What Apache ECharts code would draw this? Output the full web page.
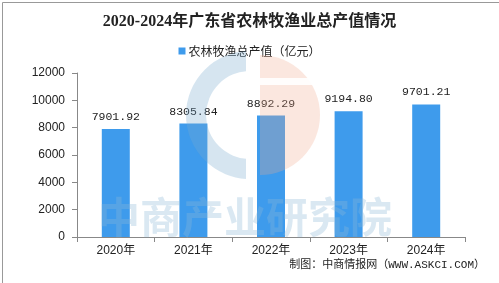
<!DOCTYPE html>
<html><head><meta charset="utf-8">
<script src="https://cdn.jsdelivr.net/npm/echarts@6/dist/echarts.min.js"></script>
<style>html,body{margin:0;padding:0;background:#fff}#c{width:499px;height:283px}</style>
</head><body><div id="c"></div>
<script>
const categories = ['2020年', '2021年', '2022年', '2023年', '2024年'];
const values = [7901.92, 8305.84, 8892.29, 9194.80, 9701.21];
const seriesName = '农林牧渔总产值（亿元）';
const titleText = '2020-2024年广东省农林牧渔业总产值情况';
const sourceText = '制图：中商情报网（WWW.ASKCI.COM）';
const watermarkText = '中商产业研究院';

const chart = echarts.init(document.getElementById('c'));
chart.setOption({
  animation: false,
  backgroundColor: '#fff',
  title: {
    text: titleText, left: 'center', top: 9,
    textStyle: { fontFamily: "'Liberation Serif','Noto Sans CJK SC'", fontWeight: 'bold', fontSize: 16, color: '#222' }
  },
  legend: {
    data: [seriesName], top: 40, left: 'center',
    itemWidth: 7, itemHeight: 7, itemGap: 4, icon: 'rect',
    textStyle: { fontFamily: "'Noto Sans CJK SC'", fontSize: 12, color: '#222', padding: [0, 0, 0, -2] }
  },
  grid: { left: 77, right: 34, top: 73, bottom: 46 },
  xAxis: {
    type: 'category', data: categories,
    axisLine: { lineStyle: { color: '#888', width: 1 } },
    axisTick: { show: true, length: 5, lineStyle: { color: '#888' } },
    axisLabel: { fontFamily: "'Liberation Sans','Noto Sans CJK SC'", fontSize: 12, color: '#222', margin: 8 }
  },
  yAxis: {
    type: 'value', min: 0, max: 12000, interval: 2000,
    axisLine: { show: true, lineStyle: { color: '#888', width: 1 } },
    axisTick: { show: true, length: 5, lineStyle: { color: '#888' } },
    splitLine: { show: false },
    axisLabel: { fontFamily: "'Liberation Sans'", fontSize: 12, color: '#222', margin: 12,
      formatter: v => String(v) }
  },
  series: [{
    name: seriesName, type: 'bar', data: values, barWidth: 28,
    itemStyle: { color: '#3e9bec' },
    label: {
      show: true, position: 'top', distance: 6,
      formatter: p => p.value.toFixed(2),
      fontFamily: "'Liberation Mono','DejaVu Sans Mono'", fontSize: 11.5, color: '#222'
    }
  }],
  graphic: [
    { type: 'rect', left: 0, top: 0, z: 100, silent: true,
      shape: { width: 498, height: 282 }, style: { fill: 'none', stroke: '#999', lineWidth: 1 } },
    { type: 'ring', z: 50, silent: true, x: 250, y: 115,
      shape: { cx: 0, cy: 0, r: 64, r0: 44 },
      style: { fill: 'rgba(120,170,205,0.3)' },
      clipPath: { type: 'rect', shape: { x: -70, y: -70, width: 66, height: 140 } } },
    { type: 'sector', z: 50, silent: true, x: 250, y: 115,
      shape: { cx: 10, cy: 0, r: 60, r0: 0, startAngle: -Math.PI / 2, endAngle: Math.PI / 2 },
      style: { fill: 'rgba(240,170,140,0.28)' } },
    { type: 'rect', z: 51, silent: true, x: 260, y: 78,
      shape: { width: 58, height: 7 }, style: { fill: 'rgba(255,255,255,0.9)' } },
    { type: 'text', z: 50, silent: true, left: 98, top: 196,
      style: { text: watermarkText, fontFamily: "'Noto Sans CJK SC'", fontSize: 42, fontWeight: 'bold',
        fill: 'rgba(140,185,215,0.32)' } },
    { type: 'text', right: 14, top: 260, z: 60,
      style: { text: sourceText, fontFamily: "'Liberation Mono','Noto Sans CJK SC'", fontSize: 11, fill: '#222' } }
  ]
});
</script></body></html>
